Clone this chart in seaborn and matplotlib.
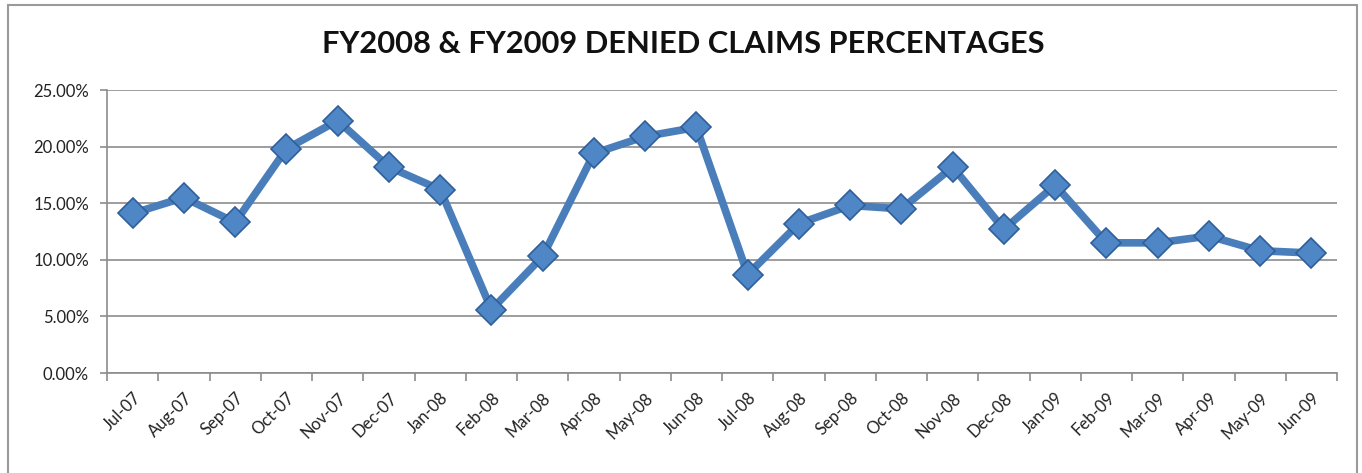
import matplotlib
matplotlib.use("Agg")
import matplotlib.pyplot as plt
import seaborn as sns
import pandas as pd
from matplotlib.ticker import FuncFormatter, FixedLocator
from matplotlib.patches import Rectangle

months = ["Jul-07", "Aug-07", "Sep-07", "Oct-07", "Nov-07", "Dec-07",
          "Jan-08", "Feb-08", "Mar-08", "Apr-08", "May-08", "Jun-08",
          "Jul-08", "Aug-08", "Sep-08", "Oct-08", "Nov-08", "Dec-08",
          "Jan-09", "Feb-09", "Mar-09", "Apr-09", "May-09", "Jun-09"]
denied_pct = [14.1, 15.5, 13.3, 19.8, 22.3, 18.2,
              16.2, 5.6, 10.3, 19.4, 20.9, 21.7,
              8.7, 13.2, 14.8, 14.5, 18.2, 12.7,
              16.6, 11.5, 11.5, 12.1, 10.8, 10.6]
y_ticks = [0, 5, 10, 15, 20, 25]
title = "FY2008 & FY2009 DENIED CLAIMS PERCENTAGES"

df = pd.DataFrame({"month": months, "pct": denied_pct})

sns.set_theme(style="white")
plt.rcParams["font.family"] = ["Lato", "DejaVu Sans"]

fig = plt.figure(figsize=(13.62, 4.73), dpi=100)
ax = fig.add_axes([0.0786, 0.2114, 0.9031, 0.5983])

line_color = "#4A7EBB"
sns.lineplot(data=df, x="month", y="pct", sort=False, ax=ax,
             color=line_color, linewidth=5.5, marker="D", markersize=15.5,
             markerfacecolor="#4F86C6", markeredgecolor="#2F5F9A",
             markeredgewidth=1.2)

ax.set_xlim(-0.5, len(months) - 0.5)
ax.set_ylim(0, 25)
ax.set_yticks(y_ticks)
ax.yaxis.set_major_formatter(FuncFormatter(lambda v, p: f"{v:.2f}%"))
ax.grid(axis="y", color="#8C8C8C", linewidth=1.2)
ax.grid(axis="x", visible=False)
ax.set_axisbelow(True)

ax.set_xticks(range(len(months)))
ax.set_xticklabels(months, rotation=45, ha="right", va="top", rotation_mode="anchor",
                   fontsize=12, color="#222222")
ax.xaxis.set_minor_locator(FixedLocator([i - 0.5 for i in range(len(months) + 1)]))
ax.tick_params(axis="x", which="major", length=0, pad=12)
ax.tick_params(axis="x", which="minor", length=6, width=1.2, color="#8C8C8C", bottom=True)
ax.tick_params(axis="y", which="major", length=5, width=1.2, color="#8C8C8C", left=True,
               labelsize=12, labelcolor="#222222", pad=8)

for s in ["top", "right"]:
    ax.spines[s].set_visible(False)
for s in ["left", "bottom"]:
    ax.spines[s].set_color("#8C8C8C")
    ax.spines[s].set_linewidth(1.2)

ax.set_xlabel("")
ax.set_ylabel("")

fig.text(0.5015, 0.908, title, ha="center", va="center", fontsize=22.2,
         fontweight="bold", color="#111111")

fig.patches.append(Rectangle((8 / 1362, -0.01), 1349 / 1362, 1.0 - 5 / 473 + 0.01,
                             transform=fig.transFigure, fill=False,
                             edgecolor="#9A9A9A", linewidth=1.5))

fig.savefig("out.png", dpi=100, facecolor="white")
